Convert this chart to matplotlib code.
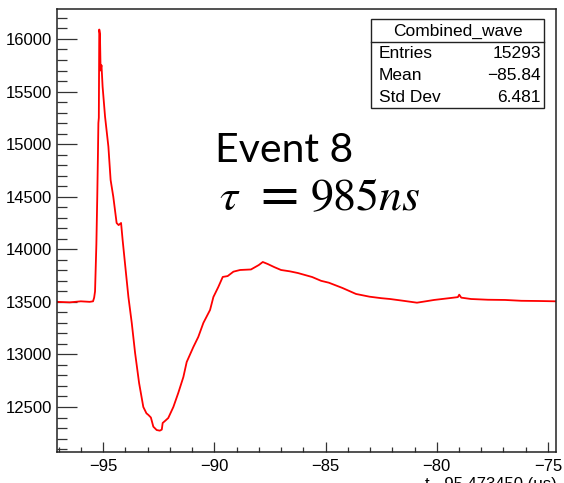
import matplotlib
matplotlib.use("Agg")
import matplotlib.pyplot as plt
from matplotlib.ticker import MultipleLocator
from matplotlib.patches import Rectangle
from matplotlib.lines import Line2D

# ---- data ----
time_us = [-97.07, -96.5, -96.0, -95.6, -95.45, -95.40, -95.36, -95.32, -95.30,
           -95.26, -95.23, -95.21, -95.19, -95.17, -95.14, -95.11, -95.07,
           -95.02, -94.91, -94.76, -94.66, -94.54, -94.39, -94.30, -94.19,
           -94.12, -93.97, -93.86, -93.71, -93.56, -93.38, -93.19, -93.05,
           -92.96, -92.85, -92.74, -92.59, -92.45, -92.36, -92.32, -92.20,
           -92.07, -91.84, -91.62, -91.39, -91.24, -90.94, -90.72, -90.49,
           -90.19, -90.04, -89.82, -89.62, -89.40, -89.14, -88.84, -88.35,
           -88.0, -87.82, -87.6, -87.3, -87.0, -86.6, -86.24, -85.6, -85.2,
           -84.85, -84.24, -83.63, -83.02, -82.5, -82.1, -81.5, -80.89, -80.5,
           -80.12, -79.36, -79.05, -78.99, -78.9, -78.46, -77.7, -76.93, -76.2,
           -75.4, -74.64]
counts = [13500, 13495, 13505, 13500, 13505, 13540, 13600, 13900, 14050,
          14500, 14900, 15200, 15250, 16090, 16050, 15700, 15750,
          15546, 15261, 14976, 14659, 14500, 14250, 14230, 14250,
          14088, 13774, 13546, 13300, 13014, 12728, 12500, 12440,
          12424, 12400, 12313, 12281, 12275, 12285, 12348, 12370,
          12395, 12500, 12633, 12785, 12928, 13071, 13166, 13300,
          13423, 13546, 13641, 13737, 13745, 13787, 13803, 13808,
          13850, 13879, 13860, 13830, 13803, 13790, 13774, 13736, 13700,
          13682, 13632, 13575, 13549, 13535, 13527, 13510, 13492, 13505,
          13518, 13537, 13545, 13568, 13540, 13527, 13520, 13518, 13510,
          13508, 13505]

stats_title = "Combined_wave"
stats_names = ["Entries", "Mean", "Std Dev"]
stats_values = ["15293", "\u221285.84", "6.481"]
x_label = "t - 95.473450 (\u03bcs)"
event_label = "Event 8"

plt.rcParams["mathtext.fontset"] = "stix"

W, H = 564, 483
fig = plt.figure(figsize=(W / 100, H / 100), dpi=100)
fig.patch.set_facecolor("white")

L, R, B, T = 57, 556, 452, 9
ax = fig.add_axes([L / W, 1 - B / H, (R - L) / W, (B - T) / H])
ax.plot(time_us, counts, color="#ff0000", lw=1.3)
ax.set_xlim(-97.07, -74.64)
ax.set_ylim(12072, 16285)

ax.xaxis.set_major_locator(MultipleLocator(5))
ax.xaxis.set_minor_locator(MultipleLocator(1))
ax.yaxis.set_major_locator(MultipleLocator(500))
ax.yaxis.set_minor_locator(MultipleLocator(100))

tick_col = "#333333"
ax.tick_params(axis="both", which="both", direction="in", color=tick_col,
               width=0.9, labelsize=12, labelcolor="black")
ax.tick_params(axis="y", which="major", length=14.4, pad=3.5)
ax.tick_params(axis="y", which="minor", length=7.2)
ax.tick_params(axis="x", which="major", length=7.2, pad=5)
ax.tick_params(axis="x", which="minor", length=3.6)
ax.tick_params(top=False, right=False)
for lab in ax.get_xticklabels() + ax.get_yticklabels():
    lab.set_family("Liberation Sans")
for s in ax.spines.values():
    s.set_linewidth(1.1)
    s.set_color("#222222")

# stats box
bx0, bx1, by0, by1, hy = 371, 544, 19, 108, 42
fig.patches.append(Rectangle((bx0 / W, 1 - by1 / H), (bx1 - bx0) / W, (by1 - by0) / H,
                             transform=fig.transFigure, facecolor="white",
                             edgecolor="#222222", lw=1.0, zorder=5))
fig.lines.append(Line2D([bx0 / W, bx1 / W], [1 - hy / H, 1 - hy / H],
                        transform=fig.transFigure, color="#222222", lw=1.0, zorder=6))
fig.text((bx0 + bx1) / 2 / W, 1 - 31 / H, stats_title, ha="center", va="center",
         fontsize=12.5, family="Liberation Sans", zorder=7)
for i, (n, v) in enumerate(zip(stats_names, stats_values)):
    yy = 1 - (53 + 22 * i) / H
    fig.text(379 / W, yy, n, ha="left", va="center", fontsize=12.5,
             family="Liberation Sans", zorder=7)
    fig.text(541 / W, yy, v, ha="right", va="center", fontsize=12.5,
             family="Liberation Sans", zorder=7)

# annotation
fig.text(215 / W, 1 - 162 / H, event_label, ha="left", va="baseline",
         fontsize=29.5, family="Lato")
fs_tau = 33
fig.text(219 / W, 1 - 210 / H, r"$\tau$", ha="left", va="baseline", fontsize=fs_tau)
fig.text(252 / W, 1 - 209 / H, r"$=$", ha="left", va="baseline", fontsize=40)
fig.text(310 / W, 1 - 210 / H, r"$985ns$", ha="left", va="baseline", fontsize=fs_tau)

# x label (partly cut by the figure bottom, as in the reference)
fig.text(557 / W, 1 - 477 / H, x_label, ha="right", va="top", fontsize=12,
         family="Liberation Sans")

fig.savefig("out.png", dpi=100)
